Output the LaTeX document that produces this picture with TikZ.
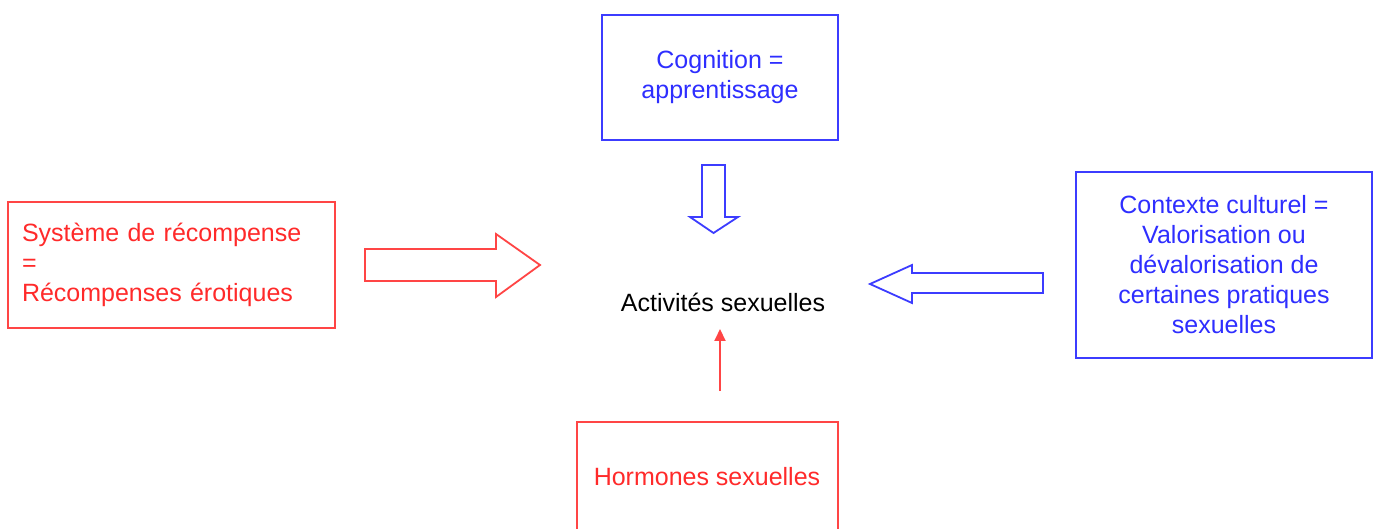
\documentclass[tikz,border=0pt]{standalone}
\usepackage{fontspec}
\setmainfont{Liberation Sans}
\usepackage{tikz}
\usetikzlibrary{arrows.meta}
\definecolor{bg}{HTML}{FFFFFF}
\definecolor{redline}{HTML}{FF4545}
\definecolor{redtext}{HTML}{FF2A2A}
\definecolor{blueline}{HTML}{3C3CFF}
\definecolor{bluetext}{HTML}{2E2EFF}
\tikzset{
  every node/.style={font=\fontsize{25}{30}\selectfont, inner sep=0pt},
  redbox/.style={draw=redline, line width=1.4pt, text=redtext},
  bluebox/.style={draw=blueline, line width=1.4pt, text=bluetext},
  redblock/.style={draw=redline, line width=1.8pt, line join=miter},
  blueblock/.style={draw=blueline, line width=1.8pt, line join=miter},
}

\begin{document}
\begin{tikzpicture}[x=1pt, y=-1pt]
\useasboundingbox[fill=bg] (0,0) rectangle (1379,529);
% boxes
\node[bluebox, minimum width=236pt, minimum height=125pt, align=center] (cognition) at (720,77.5)
  {Cognition =\\apprentissage};
\node[redbox, minimum width=327pt, minimum height=126pt, text width=299pt, align=left] (reward) at (171.5,265)
  {Système de récompense\\=\\Récompenses érotiques};
\node[bluebox, minimum width=296pt, minimum height=186pt, align=center] (culture) at (1224,265)
  {Contexte culturel =\\Valorisation ou\\dévalorisation de\\certaines pratiques\\sexuelles};
\draw[redline, line width=1.4pt] (577,530) -- (577,422) -- (838,422) -- (838,530);
\node[text=redtext] (hormones) at (707,477) {Hormones sexuelles};
\node[text=black] (activities) at (723,302) {Activités sexuelles};
% block arrows
\draw[redblock] (365,249) -- (496,249) -- (496,234) -- (540,265) -- (496,297) -- (496,281) -- (365,281) -- cycle;
\draw[blueblock] (702,165) -- (725,165) -- (725,217) -- (738,217) -- (713.5,233) -- (690,217) -- (702,217) -- cycle;
\draw[blueblock] (1043,273) -- (912,273) -- (912,265) -- (870,284) -- (912,303) -- (912,293) -- (1043,293) -- cycle;
% thin arrow
\coordinate (hormtop) at (720,391);
\coordinate (acttip) at (720,329);
\draw[-{Triangle[length=12pt, width=11pt]}, redline, line width=2pt] (hormtop) -- (acttip);
\end{tikzpicture}
\end{document}
